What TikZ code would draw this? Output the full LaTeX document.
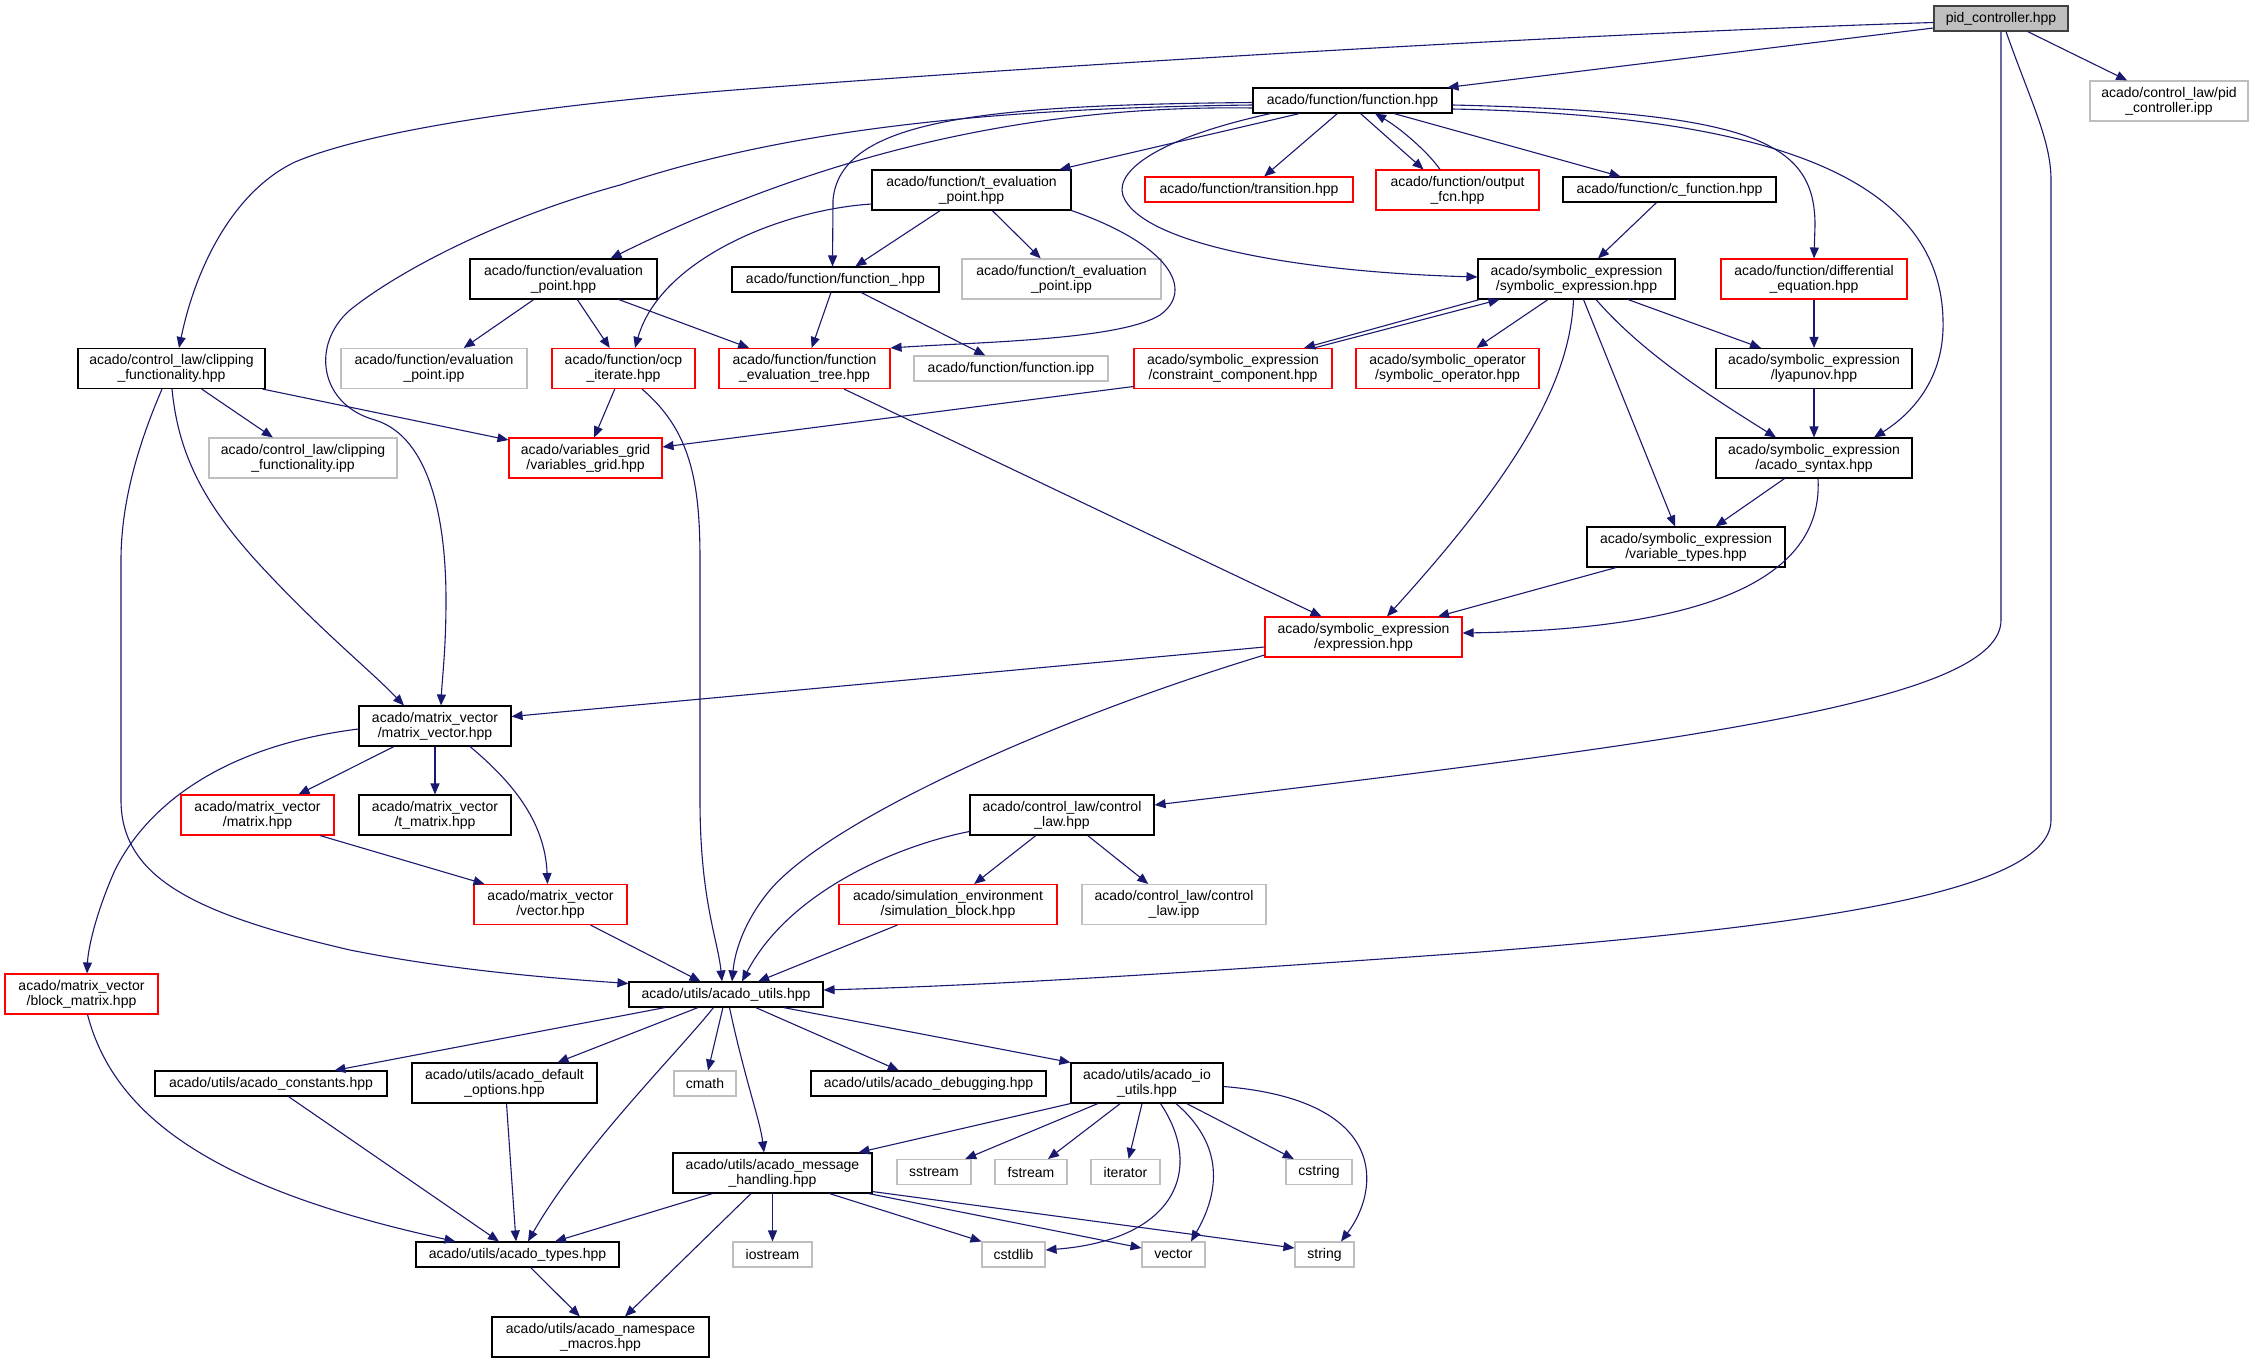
\documentclass[tikz,border=0pt]{standalone}
\usepackage{fontspec}
\setmainfont{Liberation Sans}
\usetikzlibrary{arrows.meta}
\definecolor{edgecol}{HTML}{191970}
\definecolor{gbord}{HTML}{BFBFBF}
\definecolor{pidfill}{HTML}{BFBFBF}
\definecolor{dbord}{HTML}{404040}
\tikzset{
  box/.style={draw, rectangle, fill=white, inner sep=0pt, align=center,
    font=\fontsize{14}{15}\selectfont, line width=1.1pt},
  bbox/.style={box, draw=black},
  rbox/.style={box, draw=red},
  gbox/.style={box, draw=gbord},
  pidbox/.style={box, draw=dbord, fill=pidfill},
  one/.style={minimum height=25pt},
  two/.style={minimum height=40pt},
  dep/.style={draw=edgecol, line width=1.1pt, -{Triangle[length=11pt,width=9pt]}}
}
\begin{document}
\begin{tikzpicture}[x=1pt,y=-1pt]
\useasboundingbox (0,0) rectangle (2253,1363);
\fill[white] (0,0) rectangle (2253,1363);
% nodes
\node[pidbox, one, minimum width=134pt] (pid) at (2001,18.5) {pid\_controller.hpp};
\node[gbox, two, minimum width=158pt] (pidipp) at (2169,101) {acado/control\_law/pid\\\_controller.ipp};
\node[bbox, one, minimum width=199pt] (fn) at (1352.5,100.5) {acado/function/function.hpp};
\node[bbox, two, minimum width=199pt] (tep) at (971.5,190) {acado/function/t\_evaluation\\\_point.hpp};
\node[rbox, one, minimum width=208pt] (trans) at (1249,189.5) {acado/function/transition.hpp};
\node[rbox, two, minimum width=163pt] (outfcn) at (1457.5,190) {acado/function/output\\\_fcn.hpp};
\node[bbox, one, minimum width=213pt] (cfn) at (1669.5,189.5) {acado/function/c\_function.hpp};
\node[bbox, two, minimum width=187pt] (ep) at (563.5,279) {acado/function/evaluation\\\_point.hpp};
\node[bbox, one, minimum width=207pt] (fnu) at (835.5,279.5) {acado/function/function\_.hpp};
\node[gbox, two, minimum width=199pt] (tepipp) at (1061.5,279) {acado/function/t\_evaluation\\\_point.ipp};
\node[bbox, two, minimum width=197pt] (symexp) at (1576.5,279) {acado/symbolic\_expression\\/symbolic\_expression.hpp};
\node[rbox, two, minimum width=186pt] (diffeq) at (1814,279) {acado/function/differential\\\_equation.hpp};
\node[bbox, two, minimum width=187pt] (clip) at (171.5,368.5) {acado/control\_law/clipping\\\_functionality.hpp};
\node[gbox, two, minimum width=186pt] (epipp) at (434,368.5) {acado/function/evaluation\\\_point.ipp};
\node[rbox, two, minimum width=143pt] (ocp) at (623.5,368.5) {acado/function/ocp\\\_iterate.hpp};
\node[rbox, two, minimum width=171pt] (fet) at (804.5,368.5) {acado/function/function\\\_evaluation\_tree.hpp};
\node[gbox, one, minimum width=194pt] (fnipp) at (1011,368.5) {acado/function/function.ipp};
\node[rbox, two, minimum width=198pt] (cc) at (1233,368.5) {acado/symbolic\_expression\\/constraint\_component.hpp};
\node[rbox, two, minimum width=183pt] (symop) at (1447.5,368.5) {acado/symbolic\_operator\\/symbolic\_operator.hpp};
\node[bbox, two, minimum width=196pt] (lyap) at (1814,368.5) {acado/symbolic\_expression\\/lyapunov.hpp};
\node[gbox, two, minimum width=188pt] (clipipp) at (303,458) {acado/control\_law/clipping\\\_functionality.ipp};
\node[rbox, two, minimum width=153pt] (vg) at (585.5,458) {acado/variables\_grid\\/variables\_grid.hpp};
\node[bbox, two, minimum width=196pt] (syntax) at (1814,458) {acado/symbolic\_expression\\/acado\_syntax.hpp};
\node[bbox, two, minimum width=198pt] (vt) at (1686,547) {acado/symbolic\_expression\\/variable\_types.hpp};
\node[rbox, two, minimum width=197pt] (expr) at (1363.5,637) {acado/symbolic\_expression\\/expression.hpp};
\node[bbox, two, minimum width=152pt] (mv) at (435,726) {acado/matrix\_vector\\/matrix\_vector.hpp};
\node[bbox, two, minimum width=184pt] (cl) at (1062,815) {acado/control\_law/control\\\_law.hpp};
\node[rbox, two, minimum width=153pt] (mat) at (257.5,815) {acado/matrix\_vector\\/matrix.hpp};
\node[bbox, two, minimum width=152pt] (tmat) at (435,815) {acado/matrix\_vector\\/t\_matrix.hpp};
\node[rbox, two, minimum width=218pt] (simb) at (948,904.5) {acado/simulation\_environment\\/simulation\_block.hpp};
\node[gbox, two, minimum width=184pt] (clipp) at (1174,904.5) {acado/control\_law/control\\\_law.ipp};
\node[rbox, two, minimum width=153pt] (vec) at (550.5,904.5) {acado/matrix\_vector\\/vector.hpp};
\node[rbox, two, minimum width=153pt] (bm) at (81.5,994) {acado/matrix\_vector\\/block\_matrix.hpp};
\node[bbox, one, minimum width=194pt] (au) at (726,994.5) {acado/utils/acado\_utils.hpp};
\node[bbox, one, minimum width=232pt] (cst) at (271,1083.5) {acado/utils/acado\_constants.hpp};
\node[bbox, two, minimum width=185pt] (defopt) at (504.5,1083) {acado/utils/acado\_default\\\_options.hpp};
\node[gbox, one, minimum width=62pt] (cmath) at (705,1083.5) {cmath};
\node[bbox, one, minimum width=235pt] (dbg) at (928.5,1083.5) {acado/utils/acado\_debugging.hpp};
\node[bbox, two, minimum width=152pt] (io) at (1147,1083) {acado/utils/acado\_io\\\_utils.hpp};
\node[bbox, two, minimum width=199pt] (msg) at (772.5,1173) {acado/utils/acado\_message\\\_handling.hpp};
\node[gbox, one, minimum width=74pt] (sstream) at (934,1172) {sstream};
\node[gbox, one, minimum width=72pt] (fstream) at (1031,1172) {fstream};
\node[gbox, one, minimum width=69pt] (iterator) at (1125.5,1172) {iterator};
\node[gbox, one, minimum width=66pt] (cstring) at (1319,1172) {cstring};
\node[bbox, one, minimum width=203pt] (types) at (517.5,1254.5) {acado/utils/acado\_types.hpp};
\node[gbox, one, minimum width=79pt] (iostream) at (772.5,1254.5) {iostream};
\node[gbox, one, minimum width=63pt] (cstdlib) at (1013.5,1254.5) {cstdlib};
\node[gbox, one, minimum width=63pt] (vector) at (1173.5,1254.5) {vector};
\node[gbox, one, minimum width=59pt] (string) at (1324.5,1254.5) {string};
\node[bbox, two, minimum width=217pt] (ns) at (600.5,1337) {acado/utils/acado\_namespace\\\_macros.hpp};
% edges from pid_controller.hpp
\draw[dep] ([yshift=-9.5pt]pid.west) -- ([xshift=-5pt]fn.north east);
\draw[dep] ([yshift=-4pt]pid.west) .. controls (1600,33) and (1100,62) .. (760,88) .. controls (560,103) and (375,128) .. (295,162) .. controls (232,192) and (195,270) .. ([xshift=7.5pt]clip.north);
\draw[dep] (pid) -- (pidipp);
\draw[dep] (pid.south) -- (2001,620) .. controls (2001,700) and (1700,740) .. ([yshift=10pt]cl.east);
\draw[dep] ([xshift=5pt]pid.south) .. controls (2030,100) and (2051,140) .. (2051,180) -- (2051,820) .. controls (2051,900) and (1750,930) .. (1480,952) .. controls (1200,972) and (1000,985) .. ([yshift=4.5pt]au.east);
% edges from function.hpp
\draw[dep] ([xshift=-53pt]fn.south) -- ([xshift=-12pt]tep.north east);
\draw[dep] (fn) -- (trans);
\draw[dep] ([xshift=8pt]fn.south) -- ([xshift=-34pt]outfcn.north);
\draw[dep] ([xshift=-17.5pt]outfcn.north) .. controls (1428,152) and (1400,128) .. ([xshift=22.5pt]fn.south);
\draw[dep] ([xshift=41.5pt]fn.south) -- ([xshift=-49pt]cfn.north);
\draw[dep] ([yshift=-4.5pt]fn.east) .. controls (1750,112) and (1815,140) .. (1815,225) -- (diffeq.north);
\draw[dep] ([yshift=-8.5pt]fn.east) .. controls (1750,115) and (1940,170) .. (1943,320) .. controls (1945,380) and (1910,415) .. ([xshift=60pt]syntax.north);
\draw[dep] ([xshift=-82pt]fn.south) .. controls (1150,140) and (1110,175) .. (1125,200) .. controls (1150,245) and (1300,272) .. ([yshift=2pt]symexp.west);
\draw[dep] ([yshift=-2pt]fn.west) .. controls (980,105) and (840,120) .. (833,200) -- ([xshift=-3pt]fnu.north);
\draw[dep] ([yshift=-7.5pt]fn.west) .. controls (1050,105) and (840,145) .. ([xshift=47pt]ep.north);
\draw[dep] ([yshift=-4.5pt]fn.west) .. controls (1000,108) and (790,128) .. (620,185) .. controls (500,218) and (400,270) .. (350,310) .. controls (310,345) and (320,405) .. (375,420) .. controls (430,437) and (446,520) .. (446,600) .. controls (446,650) and (442,680) .. ([xshift=6pt]mv.north);
% t_evaluation_point.hpp
\draw[dep] (tep) -- (fnu);
\draw[dep] (tep) -- (tepipp);
\draw[dep] (tep.south east) .. controls (1170,245) and (1195,290) .. (1160,315) .. controls (1120,340) and (980,342) .. (fet.north east);
\draw[dep] ([yshift=-14pt]tep.west) .. controls (780,210) and (660,260) .. ([xshift=11.5pt]ocp.north);
% evaluation_point.hpp
\draw[dep] (ep) -- (epipp);
\draw[dep] (ep) -- (ocp);
\draw[dep] (ep) -- (fet);
% function_.hpp
\draw[dep] (fnu) -- (fet);
\draw[dep] (fnu) -- (fnipp);
% symbolic_expression.hpp
\draw[dep] ([xshift=2pt]symexp.south west) -- ([xshift=71pt]cc.north);
\draw[dep] ([xshift=81pt]cc.north) -- ([xshift=22pt]symexp.south west);
\draw[dep] ([xshift=-28.5pt]symexp.south) -- ([xshift=29pt]symop.north);
\draw[dep] ([xshift=51.5pt]symexp.south) -- ([xshift=-53pt]lyap.north);
\draw[dep] ([xshift=19.5pt]symexp.south) .. controls (1640,350) and (1700,390) .. ([xshift=-38pt]syntax.north);
\draw[dep] ([xshift=7pt]symexp.south) -- ([xshift=-11pt]vt.north);
\draw[dep] ([xshift=-3pt]symexp.south) .. controls (1570,380) and (1520,470) .. ([xshift=23.5pt]expr.north);
\draw[dep] ([xshift=-13pt]cfn.south) -- ([xshift=21.5pt]symexp.north);
\draw[dep] (diffeq) -- (lyap);
\draw[dep] (lyap) -- (syntax);
\draw[dep] (syntax) -- (vt);
\draw[dep] ([xshift=4pt]syntax.south) .. controls (1825,600) and (1650,630) .. ([yshift=4pt]expr.east);
\draw[dep] ([xshift=-70pt]vt.south) -- ([xshift=74.5pt]expr.north);
\draw[dep] ([xshift=39.5pt]fet.south) -- ([xshift=-42pt]expr.north);
\draw[dep] ([yshift=-18pt]cc.west) -- ([yshift=11pt]vg.east);
% clipping / ocp
\draw[dep] ([xshift=-3pt]clip.south east) -- ([yshift=18pt]vg.west);
\draw[dep] (ocp) -- (vg);
\draw[dep] (clip) -- (clipipp);
\draw[dep] ([xshift=0.5pt]clip.south) .. controls (178,450) and (200,500) .. (260,565) .. controls (320,630) and (370,670) .. ([xshift=-31pt]mv.north);
\draw[dep] ([xshift=-9.5pt]clip.south) .. controls (140,440) and (121,500) .. (121,560) -- (121,800) .. controls (121,880) and (200,915) .. (350,950) .. controls (450,970) and (550,978) .. ([yshift=11pt]au.west);
\draw[dep] ([xshift=18.5pt]ocp.south) .. controls (690,430) and (700,480) .. (700,560) -- (700,800) .. controls (700,900) and (718,940) .. ([xshift=-4pt]au.north);
% expression
\draw[dep] ([yshift=-10pt]expr.west) -- ([yshift=9.5pt]mv.east);
\draw[dep] ([yshift=-18pt]expr.west) .. controls (1050,720) and (830,820) .. (770,890) .. controls (745,920) and (735,950) .. ([xshift=6pt]au.north);
% control law
\draw[dep] ([yshift=-16.5pt]cl.west) .. controls (900,845) and (790,890) .. ([xshift=16pt]au.north);
\draw[dep] (cl) -- (simb);
\draw[dep] (cl) -- (clipp);
\draw[dep] (simb) -- (au);
\draw[dep] (vec) -- (au);
% matrix_vector
\draw[dep] (mv) -- (mat);
\draw[dep] (mv) -- (tmat);
\draw[dep] ([xshift=35pt]mv.south) .. controls (510,780) and (545,820) .. ([xshift=-3pt]vec.north);
\draw[dep] ([xshift=62.5pt]mat.south) -- ([xshift=-66pt]vec.north);
\draw[dep] ([yshift=-3pt]mv.west) .. controls (230,745) and (150,800) .. (115,870) .. controls (95,915) and (88,950) .. ([xshift=5.5pt]bm.north);
\draw[dep] ([xshift=6pt]bm.south) .. controls (115,1120) and (220,1190) .. ([xshift=-62pt]types.north);
% acado_utils
\draw[dep] ([xshift=-61pt]au.south) -- ([xshift=63.4pt]cst.north);
\draw[dep] ([xshift=-28pt]au.south) -- ([xshift=53pt]defopt.north);
\draw[dep] ([xshift=-12.5pt]au.south) .. controls (680,1050) and (580,1150) .. ([xshift=10.5pt]types.north);
\draw[dep] (au) -- (cmath);
\draw[dep] ([xshift=3.5pt]au.south) .. controls (745,1080) and (760,1120) .. ([xshift=-8.5pt]msg.north);
\draw[dep] (au) -- (dbg);
\draw[dep] ([xshift=57.5pt]au.south) -- (io.north west);
% io_utils
\draw[dep] (io.south west) -- ([xshift=86pt]msg.north);
\draw[dep] (io) -- (sstream);
\draw[dep] (io) -- (fstream);
\draw[dep] (io) -- (iterator);
\draw[dep] (io) -- (cstring);
\draw[dep] ([xshift=13.5pt]io.south) .. controls (1205,1170) and (1175,1240) .. ([yshift=4.5pt]cstdlib.east);
\draw[dep] ([xshift=29pt]io.south) .. controls (1230,1150) and (1215,1200) .. ([xshift=17.5pt]vector.north);
\draw[dep] ([yshift=-3.5pt]io.east) .. controls (1390,1100) and (1380,1190) .. ([xshift=16.5pt]string.north);
% message handling
\draw[dep] (msg) -- (iostream);
\draw[dep] ([xshift=57pt]msg.south) -- (cstdlib.north west);
\draw[dep] ([xshift=-4pt]msg.south east) -- ([yshift=6.5pt]vector.west);
\draw[dep] ([yshift=2pt]msg.south east) -- ([yshift=6.5pt]string.west);
\draw[dep] ([xshift=-60pt]msg.south) -- ([xshift=37.5pt]types.north);
\draw[dep] ([xshift=-21.5pt]msg.south) -- ([xshift=24.5pt]ns.north);
% types
\draw[dep] ([xshift=17.5pt]cst.south) -- ([xshift=-18.5pt]types.north);
\draw[dep] ([xshift=2pt]defopt.south) -- ([xshift=-1.5pt]types.north);
\draw[dep] (types) -- (ns);
\end{tikzpicture}
\end{document}
